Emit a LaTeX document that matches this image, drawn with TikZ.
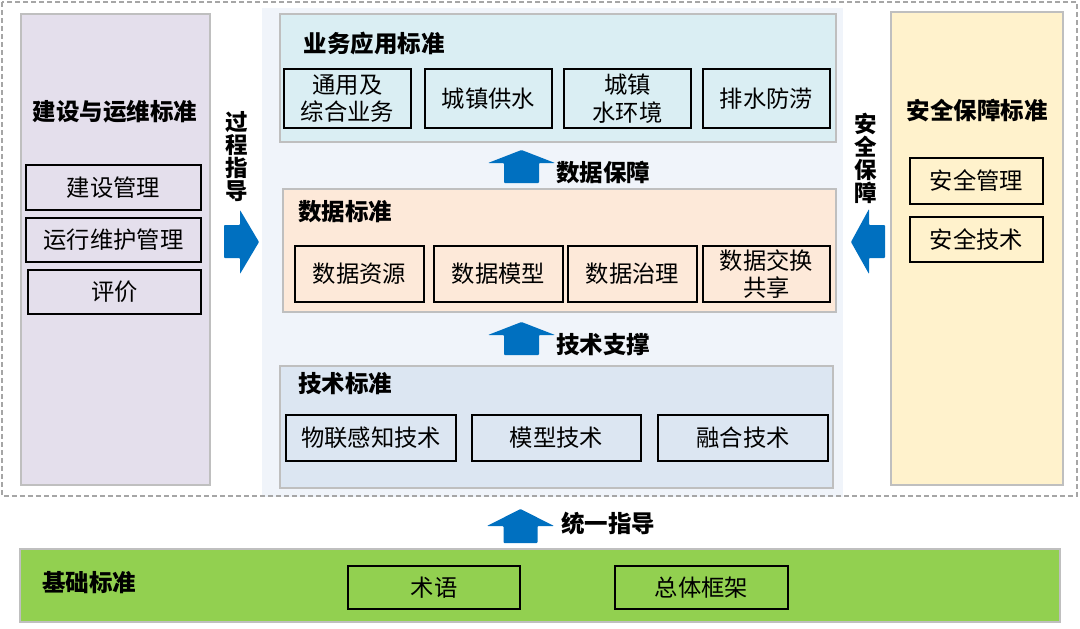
\documentclass[tikz,border=0pt]{standalone}
\usepackage{fontspec}
\newfontfamily\cjk{Noto Sans CJK SC}
\definecolor{panelgray}{HTML}{BFBFBF}
\definecolor{dashgray}{HTML}{A6A6A6}
\definecolor{arrowblue}{HTML}{0070C0}
\definecolor{lilac}{HTML}{E4DFEC}
\definecolor{centerbg}{HTML}{F0F4FA}
\definecolor{cyanbox}{HTML}{DAEEF3}
\definecolor{peach}{HTML}{FDE9D9}
\definecolor{steel}{HTML}{DCE6F2}
\definecolor{cream}{HTML}{FFF2CC}
\definecolor{green}{HTML}{92D050}
\begin{document}
\begin{tikzpicture}[x=1pt,y=-1pt,
  panel/.style={draw=panelgray, line width=1.3pt, inner sep=0pt},
  subbox/.style={draw=black, line width=1.4pt, font=\cjk\fontsize{23.3}{27.5}\selectfont, align=center, inner sep=0pt},
  ttl/.style={font=\cjk\bfseries\fontsize{23.5}{26}\selectfont, inner sep=0pt, align=center},
  vttl/.style={font=\cjk\bfseries\fontsize{22.5}{23}\selectfont, align=center, inner sep=0pt},
  blockarrow/.style={fill=arrowblue, rounded corners=0.8pt}]
\useasboundingbox (0,0) rectangle (1080,629);
\fill[white] (0,0) rectangle (1080,629);

% centre background
\node[fill=centerbg, minimum width=581pt, minimum height=489pt, inner sep=0pt] (cbg) at (552.5,252.5) {};
% outer dashed frame
\draw[dashgray, line width=1.5pt, dash pattern=on 5pt off 3pt] (2,2) rectangle (1077,496);

% panels
\node[panel, fill=lilac, minimum width=189pt, minimum height=471pt] (left) at (115.5,249.5) {};
\node[panel, fill=cream, minimum width=172pt, minimum height=473pt] (right) at (977,248.5) {};
\node[panel, fill=cyanbox, minimum width=556pt, minimum height=128pt] (app) at (558,78) {};
\node[panel, fill=peach, minimum width=553pt, minimum height=123pt] (data) at (559.5,250.5) {};
\node[panel, fill=steel, minimum width=553pt, minimum height=122pt] (tech) at (556.5,427) {};
\node[panel, fill=green, minimum width=1040pt, minimum height=73pt] (base) at (540,585.5) {};

% titles
\node[ttl] (tleft) at (115,112) {建设与运维标准};
\node[ttl] (tapp) at (374,44) {业务应用标准};
\node[ttl] (tdata) at (345,212) {数据标准};
\node[ttl] (ttech) at (345,384) {技术标准};
\node[ttl] (tright) at (977,111) {安全保障标准};
\node[ttl] (tbase) at (89,583) {基础标准};

% left sub boxes
\node[subbox, minimum width=175pt, minimum height=45pt] (l1) at (113.5,187.5) {建设管理};
\node[subbox, minimum width=175pt, minimum height=44pt] (l2) at (113.5,240) {运行维护管理};
\node[subbox, minimum width=173pt, minimum height=44pt] (l3) at (114.5,292) {评价};

% application sub boxes
\node[subbox, minimum width=127pt, minimum height=59pt] (a1) at (347.5,98.5) {通用及\\综合业务};
\node[subbox, minimum width=127pt, minimum height=59pt] (a2) at (488.5,98.5) {城镇供水};
\node[subbox, minimum width=127pt, minimum height=59pt] (a3) at (627.5,98.5) {城镇\\水环境};
\node[subbox, minimum width=127pt, minimum height=59pt] (a4) at (766.5,98.5) {排水防涝};

% data sub boxes
\node[subbox, minimum width=129pt, minimum height=56pt] (d1) at (359.5,274) {数据资源};
\node[subbox, minimum width=129pt, minimum height=56pt] (d2) at (498.5,274) {数据模型};
\node[subbox, minimum width=129pt, minimum height=56pt] (d3) at (632.5,274) {数据治理};
\node[subbox, minimum width=127pt, minimum height=56pt] (d4) at (766.5,274) {数据交换\\共享};

% tech sub boxes
\node[subbox, minimum width=170pt, minimum height=46pt] (t1) at (371,438) {物联感知技术};
\node[subbox, minimum width=169pt, minimum height=46pt] (t2) at (556.5,438) {模型技术};
\node[subbox, minimum width=170pt, minimum height=46pt] (t3) at (743,438) {融合技术};

% right sub boxes
\node[subbox, minimum width=133pt, minimum height=46pt] (r1) at (976.5,181) {安全管理};
\node[subbox, minimum width=133pt, minimum height=45pt] (r2) at (976.5,239.5) {安全技术};

% base sub boxes
\node[subbox, minimum width=172pt, minimum height=43pt] (b1) at (434,587.5) {术语};
\node[subbox, minimum width=173pt, minimum height=43pt] (b2) at (701.5,587.5) {总体框架};

% block arrows
\coordinate (u1) at (521.5,183);
\coordinate (u2) at (521.5,355);
\coordinate (u3) at (520.5,543);
\foreach \c in {u1,u2}
  \fill[blockarrow, shift={(\c)}] (-17.5,0) -- (-17.5,-20) -- (-33.5,-20) -- (0,-33) -- (33.5,-20) -- (17.5,-20) -- (17.5,0) -- cycle;
\fill[blockarrow, shift={(u3)}] (-17,0) -- (-17,-17) -- (-33.5,-17) -- (0,-34) -- (33.5,-17) -- (17,-17) -- (17,0) -- cycle;
% right arrow (process guidance)
\fill[blockarrow] (224,225) -- (240,225) -- (240,210) -- (259,242) -- (240,274) -- (240,258) -- (224,258) -- cycle;
% left arrow (security)
\fill[blockarrow] (885,225) -- (869,225) -- (869,209) -- (851,242) -- (869,274) -- (869,258) -- (885,258) -- cycle;

% arrow labels
\node[ttl] (lab1) at (603,173) {数据保障};
\node[ttl] (lab2) at (603,345) {技术支撑};
\node[ttl] (lab3) at (608,524) {统一指导};
\node[vttl] (v1) at (237,157) {过\\程\\指\\导};
\node[vttl] (v2) at (866,158) {安\\全\\保\\障};
\end{tikzpicture}
\end{document}
